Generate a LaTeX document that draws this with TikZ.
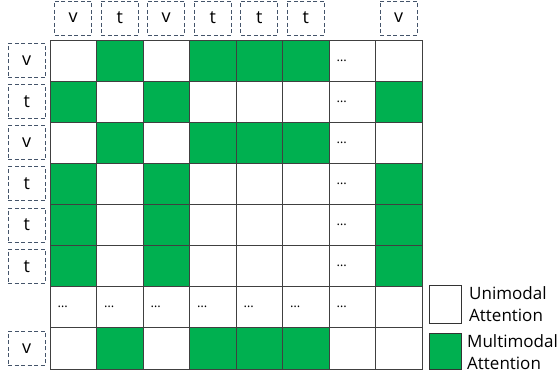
\documentclass[tikz,border=0pt]{standalone}
\usepackage{fontspec}
\setmainfont{Open Sans}
\definecolor{mgreen}{HTML}{00B050}
\definecolor{dashblue}{HTML}{44546A}
\begin{document}
\begin{tikzpicture}[x=1pt,y=-1pt,
  cell/.style={draw=black!75, line width=0.9pt, minimum width=46.5pt, minimum height=41.125pt, inner sep=0pt, outer sep=0pt},
  cg/.style={fill=mgreen},
  cw/.style={fill=white},
  cd/.style={fill=white},
  lbl/.style={draw=dashblue, dash pattern=on 4pt off 2.5pt, line width=0.9pt, minimum width=37pt, minimum height=34pt, inner sep=0pt, font=\fontsize{18}{22}\selectfont},
  dots/.style={font=\fontsize{13}{16}\selectfont, anchor=west, inner sep=0pt},
  legbox/.style={draw=black!80, line width=0.9pt, minimum width=32pt, inner sep=0pt},
  legtxt/.style={anchor=west, align=left, inner sep=0pt, font=\fontsize{17}{22}\selectfont}]
\useasboundingbox (0,0) rectangle (558,380);
\def\D{d}
% matrix cells
\foreach \row [count=\r] in {
  {w,g,w,g,g,g,d,w},
  {g,w,g,w,w,w,d,g},
  {w,g,w,g,g,g,d,w},
  {g,w,g,w,w,w,d,g},
  {g,w,g,w,w,w,d,g},
  {g,w,g,w,w,w,d,g},
  {d,d,d,d,d,d,d,w},
  {w,g,w,g,g,g,w,w}}{
  \foreach \k [count=\c] in \row {
    \node[cell, c\k] (m\r-\c) at ({50+46.5*(\c-0.5)}, {40+41.125*(\r-0.5)}) {};
    \ifx\k\D \node[dots] (d\r-\c) at ([xshift=7.5pt]m\r-\c.west) {…}; \fi
  }
}
% top labels
\foreach \t/\c in {v/1,t/2,v/3,t/4,t/5,t/6,v/8}{
  \node[lbl] (top\c) at ({50+46.5*(\c-0.5)}, 18) {\t};
}
% left labels
\foreach \t/\r in {v/1,t/2,v/3,t/4,t/5,t/6,v/8}{
  \node[lbl] (left\r) at (26.7, {40+41.125*(\r-0.5)}) {\t};
}
% legend
\node[legbox, fill=white, minimum height=38pt] (lw) at (445, 304) {};
\node[legbox, fill=mgreen, minimum height=36pt] (lg) at (445, 351) {};
\node[legtxt] (tw) at (469, 304) {Unimodal\\Attention};
\node[legtxt] (tg) at (467, 352) {Multimodal\\Attention};
\end{tikzpicture}
\end{document}
